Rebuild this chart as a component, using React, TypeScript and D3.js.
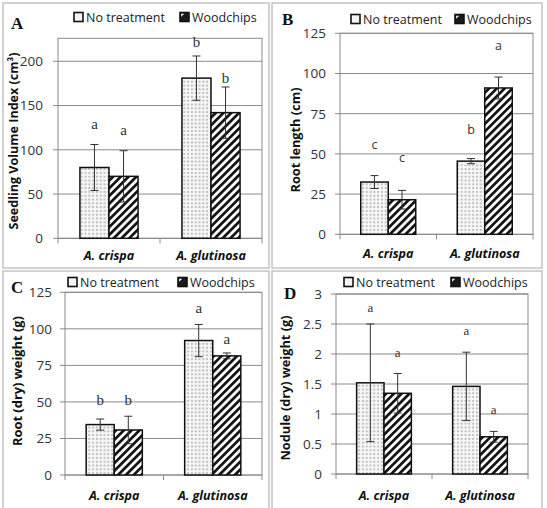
import React from 'react';
import * as d3 from 'd3';

const categories = ['A. crispa', 'A. glutinosa'];
const seriesNames = ['No treatment', 'Woodchips'];

// Panel A: Seedling Volume Index
const volNone = [80, 181];
const volNoneErr = [26, 25];
const volWood = [70, 142];
const volWoodErr = [29, 29];
const volNoneLetters = ['a', 'b'];
const volWoodLetters = ['a', 'b'];
const volNoneLetterAt = [129, 221];
const volWoodLetterAt = [122, 181];
const volTicks = [0, 50, 100, 150, 200];

// Panel B: Root length
const lenNone = [32.5, 45.5];
const lenNoneErr = [4, 1.6];
const lenWood = [21.5, 91];
const lenWoodErr = [5.8, 6.8];
const lenNoneLetters = ['c', 'b'];
const lenWoodLetters = ['c', 'a'];
const lenNoneLetterAt = [55.5, 64.8];
const lenWoodLetterAt = [47.4, 116.7];
const lenTicks = [0, 25, 50, 75, 100, 125];

// Panel C: Root dry weight
const rootNone = [34.5, 92];
const rootNoneErr = [3.8, 11];
const rootWood = [30.8, 81.5];
const rootWoodErr = [9.4, 2];
const rootNoneLetters = ['b', 'a'];
const rootWoodLetters = ['b', 'a'];
const rootNoneLetterAt = [50.9, 113.7];
const rootWoodLetterAt = [50.9, 93];
const rootTicks = [0, 25, 50, 75, 100, 125];

// Panel D: Nodule dry weight
const nodNone = [1.52, 1.46];
const nodNoneErr = [0.98, 0.57];
const nodWood = [1.345, 0.62];
const nodWoodErr = [0.33, 0.09];
const nodNoneLetters = ['a', 'a'];
const nodWoodLetters = ['a', 'a'];
const nodNoneLetterAt = [2.77, 2.39];
const nodWoodLetterAt = [2.01, 1.06];
const nodTicks = [0, 0.5, 1, 1.5, 2, 2.5, 3];

const SANS = '"Open Sans", "DejaVu Sans", sans-serif';
const SERIF = '"Liberation Serif", "DejaVu Serif", serif';

interface PanelProps {
  tag: string;
  frame: { x: number; y: number; w: number; h: number };
  plot: { x0: number; x1: number; y0: number; y1: number };
  yMax: number;
  ticks: number[];
  title: string;
  titleX: number;
  titleY: number;
  titleLen: number;
  tickRight: number;
  tagPos: [number, number];
  legendY: number;
  legendX: [number, number];
  xLabelY: number;
  letterFont: string;
  letterSize: number;
  none: number[];
  noneErr: number[];
  wood: number[];
  woodErr: number[];
  noneLetters: string[];
  woodLetters: string[];
  noneLetterAt: number[];
  woodLetterAt: number[];
}

const Panel: React.FC<PanelProps> = (p) => {
  const x = d3.scaleBand<string>()
    .domain(categories)
    .range([p.plot.x0, p.plot.x1])
    .paddingInner(0.43)
    .paddingOuter(0.215);
  const sub = d3.scaleBand<string>()
    .domain(seriesNames)
    .range([0, x.bandwidth()]);
  const y = d3.scaleLinear().domain([0, p.yMax]).range([p.plot.y1, p.plot.y0]);

  const series = [
    { name: seriesNames[0], vals: p.none, errs: p.noneErr, letters: p.noneLetters, at: p.noneLetterAt, fill: 'url(#dots)' },
    { name: seriesNames[1], vals: p.wood, errs: p.woodErr, letters: p.woodLetters, at: p.woodLetterAt, fill: 'url(#stripes)' },
  ];
  const step = (p.plot.x1 - p.plot.x0) / categories.length;

  return (
    <g>
      <rect x={p.frame.x} y={p.frame.y} width={p.frame.w} height={p.frame.h} fill="#fff" stroke="#c4c4c4" strokeWidth={1.5} />
      <text x={p.tagPos[0]} y={p.tagPos[1]} fontFamily={SERIF} fontWeight="bold" fontSize={17} fill="#111">{p.tag}</text>
      {/* legend */}
      {series.map((s, i) => (
        <g key={s.name} transform={`translate(${p.legendX[i]},${p.legendY})`}>
          <rect x={0} y={-4.5} width={9} height={9} fill={i === 0 ? '#f4f4f4' : '#1a1a1a'} stroke="#111" strokeWidth={1.6} />
          {i === 1 && <path d="M1.2,-0.3 L4.2,-3.3 L1.2,-3.3 Z" fill="#fff" />}
          <text x={12} y={0} dy="0.36em" fontFamily={SANS} fontSize={12.5} fill="#222">{s.name}</text>
        </g>
      ))}
      {/* grid */}
      {p.ticks.map((t) => (
        <g key={t}>
          <line x1={p.plot.x0} x2={p.plot.x1} y1={y(t)} y2={y(t)} stroke="#8a8a8a" strokeWidth={1} />
          <line x1={p.plot.x0 - 5} x2={p.plot.x0} y1={y(t)} y2={y(t)} stroke="#8a8a8a" strokeWidth={1} />
          <text x={p.tickRight} y={y(t)} dy="0.36em" textAnchor="end" fontFamily={SANS} fontSize={13.5} fill="#333">{t}</text>
        </g>
      ))}
      <rect x={p.plot.x0} y={p.plot.y0} width={p.plot.x1 - p.plot.x0} height={p.plot.y1 - p.plot.y0} fill="none" stroke="#8a8a8a" strokeWidth={1} />
      {[0, 1, 2].map((k) => (
        <line key={k} x1={p.plot.x0 + k * step} x2={p.plot.x0 + k * step} y1={p.plot.y1} y2={p.plot.y1 + 5} stroke="#8a8a8a" strokeWidth={1} />
      ))}
      {/* bars */}
      {series.map((s) => categories.map((c, ci) => {
        const bx = (x(c) ?? 0) + (sub(s.name) ?? 0);
        const bw = sub.bandwidth();
        const cx = bx + bw / 2;
        const v = s.vals[ci];
        const e = s.errs[ci];
        return (
          <g key={s.name + c}>
            <rect x={bx} y={y(v)} width={bw} height={y(0) - y(v)} fill={s.fill} stroke="#111" strokeWidth={1.5} />
            <line x1={cx} x2={cx} y1={y(v + e)} y2={y(Math.max(0, v - e))} stroke="#333" strokeWidth={1} />
            <line x1={cx - 4} x2={cx + 4} y1={y(v + e)} y2={y(v + e)} stroke="#333" strokeWidth={1} />
            <line x1={cx - 4} x2={cx + 4} y1={y(Math.max(0, v - e))} y2={y(Math.max(0, v - e))} stroke="#333" strokeWidth={1} />
            <text x={cx} y={y(s.at[ci])} dy="0.3em" textAnchor="middle" fontFamily={p.letterFont} fontSize={p.letterSize} fill="#333">{s.letters[ci]}</text>
          </g>
        );
      }))}
      {/* category labels */}
      {categories.map((c) => (
        <text key={c} x={(x(c) ?? 0) + x.bandwidth() / 2} y={p.xLabelY} dy="0.35em" textAnchor="middle" fontFamily={SANS} fontWeight="bold" fontStyle="italic" fontSize={12.5} fill="#111">{c}</text>
      ))}
      <text transform={`translate(${p.titleX},${p.titleY}) rotate(-90)`} textAnchor="middle" dy="0.35em" fontFamily={SANS} fontWeight="bold" fontSize={13} textLength={p.titleLen} lengthAdjust="spacingAndGlyphs" fill="#111">{p.title}</text>
    </g>
  );
};

const App: React.FC = () => {
  return (
    <svg width={547} height={508} style={{ position: 'absolute', left: 0, top: 0, background: '#fff' }}>
      <defs>
        <pattern id="dots" patternUnits="userSpaceOnUse" width={3.8} height={3.8}>
          <rect width={3.8} height={3.8} fill="#f6f6f6" />
          <circle cx={1.9} cy={1.9} r={0.9} fill="#a6a6a6" />
        </pattern>
        <pattern id="stripes" patternUnits="userSpaceOnUse" width={5.5} height={5.5} patternTransform="rotate(45)">
          <rect width={5.5} height={5.5} fill="#fff" />
          <rect width={2.7} height={5.5} fill="#111" />
        </pattern>
      </defs>
      <Panel
        tag="A"
        frame={{ x: 3, y: 3, w: 266, h: 265 }}
        plot={{ x0: 58, x1: 262, y0: 38.3, y1: 238.3 }}
        yMax={226}
        ticks={volTicks}
        title="Seedling Volume Index (cm³)"
        titleX={13}
        titleY={141}
        titleLen={177}
        tickRight={43}
        tagPos={[11, 29]}
        legendY={17}
        legendX={[74, 180]}
        xLabelY={256}
        letterFont={SERIF}
        letterSize={15}
        none={volNone}
        noneErr={volNoneErr}
        wood={volWood}
        woodErr={volWoodErr}
        noneLetters={volNoneLetters}
        woodLetters={volWoodLetters}
        noneLetterAt={volNoneLetterAt}
        woodLetterAt={volWoodLetterAt}
      />
      <Panel
        tag="B"
        frame={{ x: 272, y: 3, w: 270, h: 265 }}
        plot={{ x0: 340, x1: 533, y0: 33.3, y1: 234.3 }}
        yMax={125}
        ticks={lenTicks}
        title="Root length (cm)"
        titleX={295}
        titleY={140}
        titleLen={105}
        tickRight={326}
        tagPos={[282, 25]}
        legendY={19}
        legendX={[351, 455]}
        xLabelY={254}
        letterFont={SANS}
        letterSize={12.5}
        none={lenNone}
        noneErr={lenNoneErr}
        wood={lenWood}
        woodErr={lenWoodErr}
        noneLetters={lenNoneLetters}
        woodLetters={lenWoodLetters}
        noneLetterAt={lenNoneLetterAt}
        woodLetterAt={lenWoodLetterAt}
      />
      <Panel
        tag="C"
        frame={{ x: 3, y: 271, w: 266, h: 240 }}
        plot={{ x0: 65, x1: 262, y0: 292.3, y1: 475 }}
        yMax={125}
        ticks={rootTicks}
        title="Root (dry) weight (g)"
        titleX={17}
        titleY={381}
        titleLen={130}
        tickRight={52}
        tagPos={[11, 293]}
        legendY={282}
        legendX={[68, 178]}
        xLabelY={496}
        letterFont={SERIF}
        letterSize={15}
        none={rootNone}
        noneErr={rootNoneErr}
        wood={rootWood}
        woodErr={rootWoodErr}
        noneLetters={rootNoneLetters}
        woodLetters={rootWoodLetters}
        noneLetterAt={rootNoneLetterAt}
        woodLetterAt={rootWoodLetterAt}
      />
      <Panel
        tag="D"
        frame={{ x: 272, y: 271, w: 270, h: 240 }}
        plot={{ x0: 336, x1: 528, y0: 294, y1: 474 }}
        yMax={3}
        ticks={nodTicks}
        title="Nodule (dry) weight (g)"
        titleX={285}
        titleY={388}
        titleLen={145}
        tickRight={322}
        tagPos={[284, 299]}
        legendY={282}
        legendX={[344, 451]}
        xLabelY={496}
        letterFont={SERIF}
        letterSize={13}
        none={nodNone}
        noneErr={nodNoneErr}
        wood={nodWood}
        woodErr={nodWoodErr}
        noneLetters={nodNoneLetters}
        woodLetters={nodWoodLetters}
        noneLetterAt={nodNoneLetterAt}
        woodLetterAt={nodWoodLetterAt}
      />
    </svg>
  );
};

export default App;
